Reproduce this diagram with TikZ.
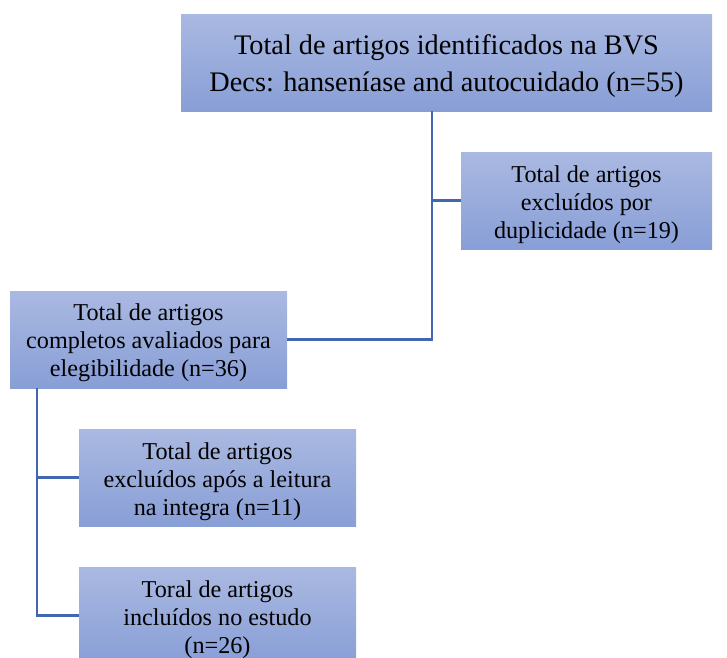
\documentclass[tikz,border=0pt]{standalone}
\usepackage{fontspec}
\setmainfont{Liberation Serif}
\definecolor{boxtop}{HTML}{AAB9E1}
\definecolor{boxbot}{HTML}{889ED6}
\definecolor{linec}{HTML}{4267B0}
\begin{document}
\begin{tikzpicture}[x=1pt,y=-1pt,
  box/.style={top color=boxtop, bottom color=boxbot, draw=none, inner sep=0pt,
    align=center, minimum height=97pt, font=\fontsize{24.2}{28}\selectfont},
  conn/.style={draw=linec, line width=2.5pt}]
\useasboundingbox (0,0) rectangle (727,657);
\clip (0,0) rectangle (727,657);
\node[box, minimum width=531pt, font=\fontsize{28.3}{37}\selectfont] (b1) at (446.5,62.5)
  {\rule{0pt}{28pt}Total de artigos identificados na BVS\\Decs: hanseníase and autocuidado (n=55)};
\node[box, minimum width=251pt] (b2) at (586.5,200.5)
  {\rule{0pt}{25pt}Total de artigos\\excluídos por\\duplicidade (n=19)};
\node[box, minimum width=277pt] (b3) at (148.5,339.5)
  {\rule{0pt}{24pt}Total de artigos\\completos avaliados para\\elegibilidade (n=36)};
\node[box, minimum width=277pt] (b4) at (217.5,477.5)
  {\rule{0pt}{26pt}Total de artigos\\excluídos após a leitura\\na integra (n=11)};
\node[box, minimum width=277pt] (b5) at (217.5,615.5)
  {\rule{0pt}{26pt}Toral de artigos\\incluídos no estudo\\(n=26)};
\coordinate (t1) at ([xshift=-14.5pt]b1.south);
\coordinate (t2) at ([xshift=27pt]b3.south west);
\draw[conn] (t1) -- (t1 |- b3.east) -- (b3.east);
\draw[conn] (t1 |- b2.west) -- (b2.west);
\draw[conn] (t2) -- (t2 |- b5.west) -- (b5.west);
\draw[conn] (t2 |- b4.west) -- (b4.west);
\end{tikzpicture}
\end{document}
